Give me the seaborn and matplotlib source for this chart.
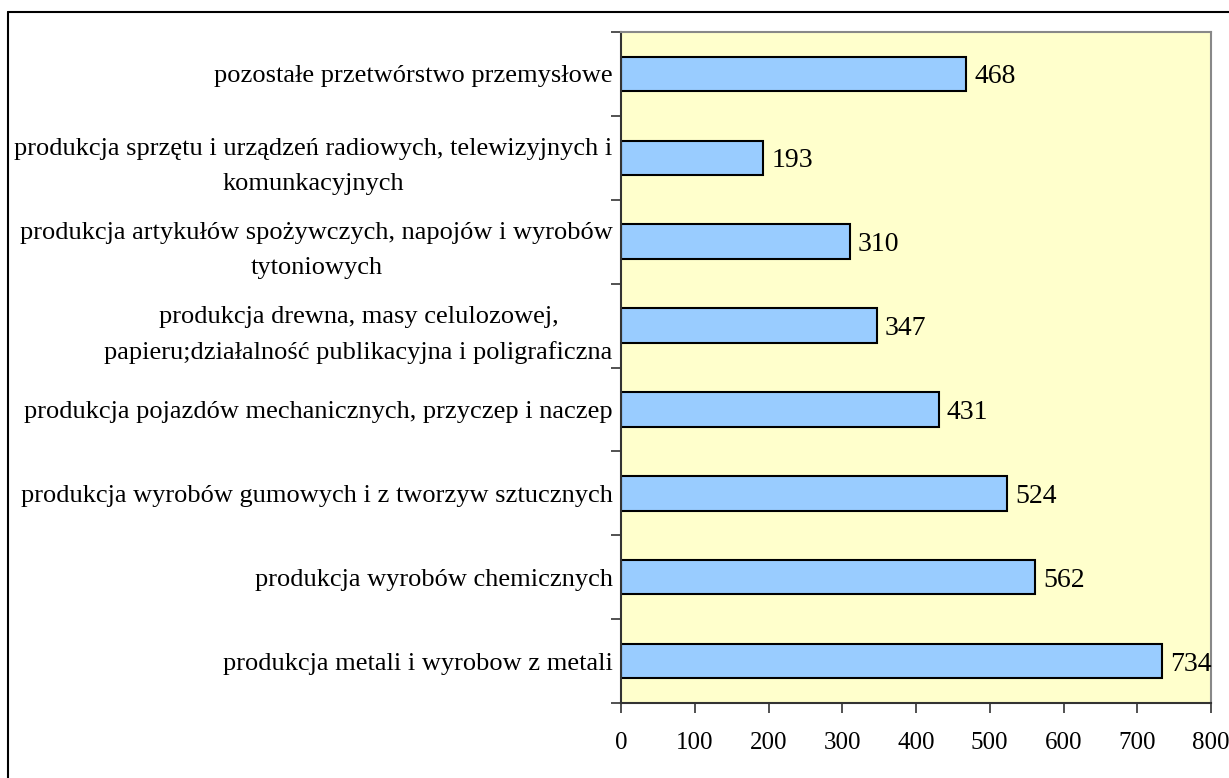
import numpy as np
import pandas as pd
import matplotlib
matplotlib.use('Agg')
import matplotlib.pyplot as plt
import seaborn as sns
from matplotlib.lines import Line2D

# Data (top to bottom as in the chart)
categories = [
    'pozostałe przetwórstwo przemysłowe',
    'produkcja sprzętu i urządzeń radiowych, telewizyjnych i\nkomunkacyjnych',
    'produkcja artykułów spożywczych, napojów i wyrobów\ntytoniowych',
    'produkcja drewna, masy celulozowej,\npapieru;działalność publikacyjna i poligraficzna',
    'produkcja pojazdów mechanicznych, przyczep i naczep',
    'produkcja wyrobów gumowych i z tworzyw sztucznych',
    'produkcja wyrobów chemicznych',
    'produkcja metali i wyrobow z metali',
]
values = [468, 193, 310, 347, 431, 524, 562, 734]
x_ticks = [0, 100, 200, 300, 400, 500, 600, 700, 800]

df = pd.DataFrame({'category': categories, 'value': values})

sns.set_theme(style='white')
plt.rcParams['font.family'] = ['Liberation Serif', 'DejaVu Serif']
plt.rcParams['text.color'] = 'black'

fig = plt.figure(figsize=(12.29, 7.78), dpi=100)
ax = fig.add_axes([621 / 1229, 1 - 703 / 778, 590 / 1229, 671 / 778])
ax.set_facecolor('#FFFFCC')

sns.barplot(data=df, x='value', y='category', orient='h', order=categories,
            color='#99CCFF', edgecolor='black', linewidth=1.5,
            width=0.41, saturation=1, ax=ax)

# value labels
for i, v in enumerate(values):
    ax.text(v + 11, i, str(v), va='center_baseline', ha='left', fontsize=20,
            color='black')

ax.set_xlim(0, 800)
ax.set_ylim(len(categories) - 0.5, -0.5)
ax.set_xticks(x_ticks)
ax.set_xticklabels([str(t) for t in x_ticks], fontsize=18)
ax.set_yticks(range(len(categories)))
ax.set_yticklabels(categories, fontsize=19, multialignment='center', linespacing=1.75)
ax.set_yticks(np.arange(-0.5, len(categories)), minor=True)
ax.tick_params(axis='y', which='major', length=0, pad=6, labelcolor='black')
ax.tick_params(axis='y', which='minor', length=7, width=1.2, color='#333333', left=True)
ax.tick_params(axis='x', which='major', length=7, width=1.2, color='#333333',
               bottom=True, pad=14, labelcolor='black')
ax.set_xlabel('')
ax.set_ylabel('')

for side in ['left', 'bottom']:
    ax.spines[side].set_color('#333333')
    ax.spines[side].set_linewidth(1.5)
for side in ['top', 'right']:
    ax.spines[side].set_color('#888888')
    ax.spines[side].set_linewidth(1.5)

# outer frame (left and top edges visible)
x0 = 8 / 1229
y0 = 1 - 12 / 778
fig.add_artist(Line2D([x0, x0], [0, y0], color='black', linewidth=1.5))
fig.add_artist(Line2D([x0, 1], [y0, y0], color='black', linewidth=1.5))

fig.savefig('out.png', dpi=100)
